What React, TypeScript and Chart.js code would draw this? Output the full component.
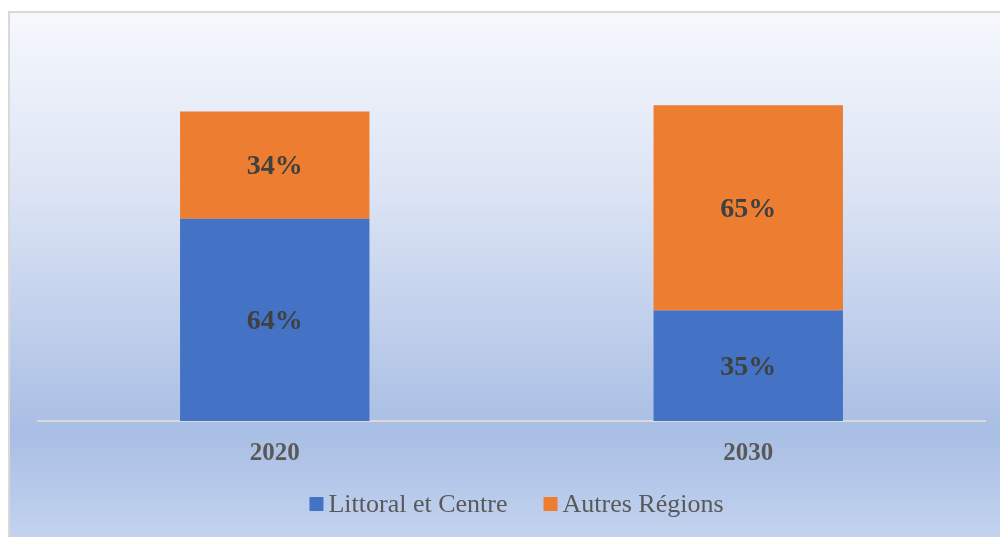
import React, { useEffect, useRef } from "react";
import { Chart, registerables } from "chart.js";

Chart.register(...registerables);

const categories = ["2020", "2030"];
const seriesNames = ["Littoral et Centre", "Autres Régions"];
const littoralValues = [64, 35];
const autresValues = [34, 65];
const seriesColors = ["#4472C4", "#ED7D31"];

const SERIF = "'Liberation Serif', 'Times New Roman', serif";

const backgroundPlugin = {
  id: "bgPanel",
  beforeDraw(chart: any) {
    const { ctx, width, height } = chart;
    ctx.save();
    ctx.fillStyle = "#ffffff";
    ctx.fillRect(0, 0, width, height);
    const x0 = 9, y0 = 12;
    const g = ctx.createLinearGradient(0, y0, 0, height);
    g.addColorStop(0, "#f7f8fb");
    g.addColorStop(0.08, "#eff3fb");
    g.addColorStop(0.35, "#dbe3f4");
    g.addColorStop(0.8, "#a9bee4");
    g.addColorStop(1, "#c3d3ef");
    ctx.fillStyle = g;
    ctx.fillRect(x0, y0, width - x0, height - y0);
    ctx.strokeStyle = "#d9d9d9";
    ctx.lineWidth = 2;
    ctx.beginPath();
    ctx.moveTo(x0, height);
    ctx.lineTo(x0, y0);
    ctx.lineTo(width, y0);
    ctx.stroke();
    ctx.restore();
  },
};

const labelPlugin = {
  id: "segLabels",
  afterDatasetsDraw(chart: any) {
    const { ctx } = chart;
    ctx.save();
    ctx.font = `bold 28px ${SERIF}`;
    ctx.fillStyle = "#404040";
    ctx.textAlign = "center";
    ctx.textBaseline = "middle";
    chart.data.datasets.forEach((ds: any, di: number) => {
      const meta = chart.getDatasetMeta(di);
      meta.data.forEach((bar: any, i: number) => {
        const cy = (bar.y + bar.base) / 2;
        ctx.fillText(`${ds.data[i]}%`, bar.x, cy + 2);
      });
    });
    ctx.restore();
  },
};

const legendPlugin = {
  id: "customLegend",
  afterDraw(chart: any) {
    const { ctx } = chart;
    ctx.save();
    ctx.font = `26px ${SERIF}`;
    ctx.textBaseline = "middle";
    ctx.textAlign = "left";
    const box = 14, gap = 5, itemGap = 36;
    const widths = seriesNames.map((n) => ctx.measureText(n).width);
    const total = widths.reduce((a, w) => a + box + gap + w, 0) + itemGap * (seriesNames.length - 1);
    let x = 516.5 - total / 2;
    const cy = 504;
    seriesNames.forEach((n, i) => {
      ctx.fillStyle = seriesColors[i];
      ctx.fillRect(x, cy - box / 2, box, box);
      x += box + gap;
      ctx.fillStyle = "#595959";
      ctx.fillText(n, x, cy + 1);
      x += widths[i] + itemGap;
    });
    ctx.restore();
  },
};

export default function App() {
  const ref = useRef<HTMLCanvasElement>(null);
  useEffect(() => {
    if (!ref.current) return;
    const chart = new Chart(ref.current, {
      type: "bar",
      data: {
        labels: categories,
        datasets: [
          { label: seriesNames[0], data: littoralValues, backgroundColor: seriesColors[0], categoryPercentage: 0.4, barPercentage: 1 },
          { label: seriesNames[1], data: autresValues, backgroundColor: seriesColors[1], categoryPercentage: 0.4, barPercentage: 1 },
        ],
      },
      options: {
        animation: false,
        responsive: false,
        maintainAspectRatio: false,
        layout: { padding: { left: 38, right: 15, top: 42, bottom: 50 } },
        plugins: { legend: { display: false }, tooltip: { enabled: false } },
        scales: {
          x: {
            stacked: true,
            grid: { display: false, drawTicks: false },
            border: { display: true, color: "#d9d9d9", width: 2 },
            ticks: { color: "#595959", font: { family: SERIF, size: 25, weight: "bold" }, padding: 18 },
          },
          y: { stacked: true, display: false, min: 0, max: 120 },
        },
      },
      plugins: [backgroundPlugin, labelPlugin, legendPlugin],
    });
    return () => chart.destroy();
  }, []);
  return (
    <div style={{ position: "absolute", left: 0, top: 0, width: 1000, height: 537 }}>
      <canvas ref={ref} width={1000} height={537} style={{ width: 1000, height: 537 }} />
    </div>
  );
}
